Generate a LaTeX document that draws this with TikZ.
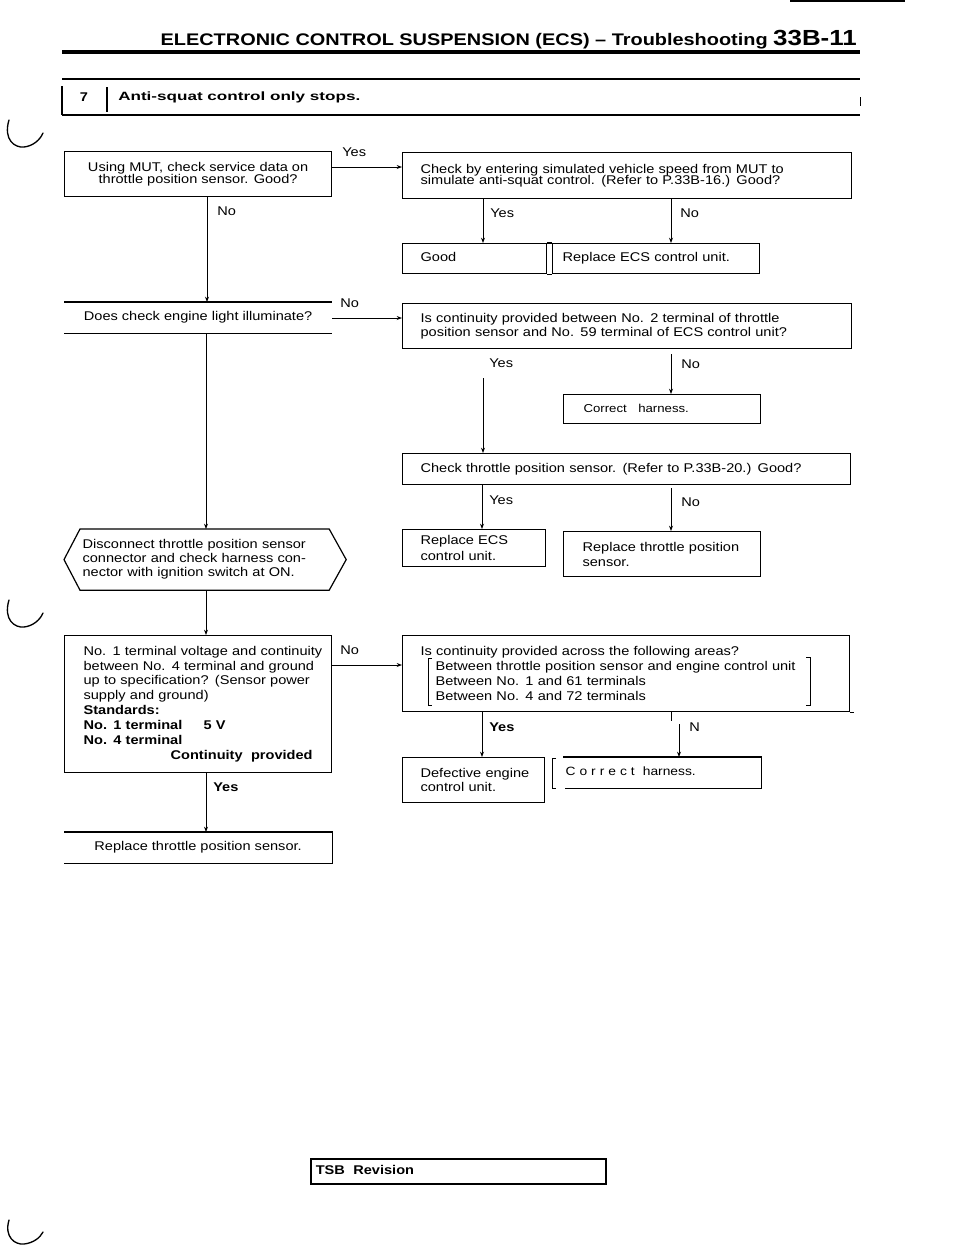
\documentclass[tikz,border=0pt]{standalone}
\usepackage{fontspec}
\setmainfont{Liberation Sans}[FakeStretch=1.15]
\usepackage{graphicx}
\usetikzlibrary{arrows.meta,calc}
\newcommand\fz[2]{\fontsize{#1}{#2}\selectfont\lineskiplimit=-30pt\relax}
\begin{document}
\begin{tikzpicture}[x=0.75pt, y=-0.75pt,
  box/.style={draw, line width=0.9pt, anchor=north west, inner ysep=0pt, font=\fz{9.5}{11}},
  one/.style={text height=7pt, text depth=2pt},
  lbl/.style={anchor=west, inner sep=0pt, font=\fz{9.5}{11}},
  blbl/.style={anchor=west, inner sep=0pt, font=\fz{9.5}{11}\bfseries},
  arr/.style={line width=0.7pt, -{Stealth[length=4pt,width=3pt]}},
  ln/.style={line width=0.9pt},
  brk/.style={line width=0.6pt},
  bindmark/.style={line width=1pt, line cap=round}]
\useasboundingbox (0,0) rectangle (960,1247);

% ---------- header ----------
\draw[line width=1pt] (790,1) -- (905,1);
\node[anchor=base east, inner sep=0pt] (title) at (857,45)
  {\resizebox{522pt}{\height}{\bfseries\fz{12.6}{14}ELECTRONIC CONTROL SUSPENSION (ECS) – Troubleshooting \fz{16.4}{18}33B-11}};
\draw[line width=2.5pt] (62,52) -- (860,52);
\draw[line width=2pt] (62,79) -- (860,79);
\draw[line width=1pt] (62,115) -- (860,115);
\draw[line width=1pt] (62,86) -- (62,115);
\draw[line width=0.8pt] (107,87) -- (107,112);
\draw[line width=0.7pt] (860,97) -- (860,106);
\node[inner sep=0pt, font=\fz{9.5}{10}\bfseries] (num) at (84,97) {7};
\node[anchor=west, inner sep=0pt] (stop) at (118,97)
  {\resizebox{181.5pt}{\height}{\fz{9}{10}\bfseries Anti-squat control only stops.}};

% ---------- binder marks ----------
\draw[bindmark] (9,120) .. controls (3,140) and (15,148) .. (24,147) .. controls (33,146) and (40,140) .. (43,133);
\draw[bindmark] (9,600) .. controls (3,620) and (15,628) .. (24,627) .. controls (33,626) and (40,620) .. (43,613);
\draw[bindmark] (9,1220) .. controls (4,1237) and (15,1245) .. (24,1244) .. controls (33,1243) and (40,1238) .. (43,1232);

% ---------- boxes ----------
\node[box, minimum width=200.25pt, minimum height=33.75pt, align=center, font=\fz{9.5}{8.5}] (A) at (64,151)
  {Using MUT, check service data on\\throttle position sensor. Good?};
\node[box, minimum width=336.75pt, minimum height=34.5pt, text width=309.75pt, inner xsep=13.5pt, align=left, font=\fz{9.5}{8.8}] (B) at (402,152)
  {Check by entering simulated vehicle speed from MUT to\\simulate anti-squat control. (Refer to P.33B-16.) Good?};
\node[box, one, minimum width=108pt, minimum height=22.5pt, text width=81pt, inner xsep=13.5pt, align=left] (G1) at (402,243) {Good};
\node[box, one, minimum width=155.25pt, minimum height=22.5pt, text width=140.25pt, inner xsep=7.5pt, align=left] (R1) at (552,243) {Replace ECS control unit.};
\draw[ln] (G1.north east) -- (R1.north west) (G1.south east) -- (R1.south west);

\node[box, one, draw=none, minimum width=200.25pt, minimum height=22.5pt, align=center] (C) at (64,302) {Does check engine light illuminate?};
\draw[ln] (C.north west) -- (C.north east) (C.south west) -- (C.south east);

\node[box, minimum width=336.75pt, minimum height=33.75pt, text width=309.75pt, inner xsep=13.5pt, align=left, font=\fz{9.5}{10}] (D) at (402,303)
  {Is continuity provided between No. 2 terminal of throttle\\position sensor and No. 59 terminal of ECS control unit?};
\node[box, one, minimum width=147.75pt, minimum height=21.75pt, text width=117.75pt, inner xsep=15pt, align=left, font=\fz{8.6}{10}] (CH) at (563,394) {Correct\ \ \ harness.};
\node[box, one, minimum width=336pt, minimum height=23.25pt, text width=309pt, inner xsep=13.5pt, align=left] (E) at (402,453)
  {Check throttle position sensor. (Refer to P.33B-20.) Good?};
\node[box, minimum width=107.25pt, minimum height=27.75pt, text width=80.25pt, inner xsep=13.5pt, align=left, font=\fz{9.5}{12}] (F) at (402,529)
  {Replace ECS\\control unit.};
\node[box, minimum width=147.75pt, minimum height=33.75pt, text width=119.25pt, inner xsep=14.25pt, align=left, font=\fz{9.5}{11.25}] (G) at (563,531)
  {\mbox{Replace throttle position}\\sensor.};

\node[box, draw=none, minimum width=186pt, minimum height=45pt, text width=183pt, inner xsep=1.5pt, align=left, font=\fz{9.5}{10.5}] (H) at (80,529)
  {Disconnect throttle position sensor\\connector and check harness con-\\nector with ignition switch at ON.};
\draw[ln] (H.north west) -- (H.north east) -- ($(H.east)+(17,0)$) -- (H.south east) -- (H.south west) -- ($(H.west)+(-16,0)$) -- cycle;

\node[box, minimum width=200.25pt, minimum height=102.75pt, text width=171.75pt, inner xsep=14.25pt, align=left, font=\fz{9.5}{11.2}] (I) at (64,635)
  {\mbox{No. 1 terminal voltage and continuity}\\
   \mbox{between No. 4 terminal and ground}\\
   \mbox{up to specification? (Sensor power}\\
   supply and ground)\\
   \textbf{Standards:}\\
   \makebox[90pt][l]{\textbf{No. 1 terminal}}\textbf{5 V}\\
   \textbf{No. 4 terminal}\\
   \hspace*{\fill}\textbf{Continuity\ \ provided}\hspace*{1pt}};

\node[box, minimum width=335.25pt, minimum height=57pt, text width=308.25pt, inner xsep=13.5pt, align=left, font=\fz{9.5}{11.25}] (J) at (402,635)
  {Is continuity provided across the following areas?\\
   \hspace*{11.25pt}Between throttle position sensor and engine control unit\\
   \hspace*{11.25pt}Between No. 1 and 61 terminals\\
   \hspace*{11.25pt}Between No. 4 and 72 terminals};
\draw[ln] (J.south east) -- ++(4,0);
\draw[brk] (432,658) -- (428,658) -- (428,705) -- (432,705);
\draw[brk] (806,657) -- (810,657) -- (810,705) -- (806,705);

\node[box, minimum width=106.5pt, minimum height=33.75pt, text width=79.5pt, inner xsep=13.5pt, align=left, font=\fz{9.5}{10.5}] (K) at (402,757)
  {\mbox{Defective engine}\\control unit.};
\node[box, one, draw=none, minimum width=147.75pt, minimum height=22.5pt, text width=144.75pt, inner xsep=1.5pt, align=left, font=\fz{9}{10}] (L) at (563,757)
  {C o r r e c t\ \ harness.};
\draw[ln] (L.north west) -- (L.north east) -- (L.south east) -- ($(L.south west)+(2,0)$);
\draw[brk] (556,758) -- (552,758) -- (552,788) -- (556,788);

\node[box, one, draw=none, minimum width=200.25pt, minimum height=22.5pt, align=center] (M) at (64,832) {Replace throttle position sensor.};
\draw[ln] (M.north west) -- (M.north east) -- (M.south east) -- (M.south west);

\node[draw, one, line width=1.2pt, anchor=north west, minimum width=221.25pt, minimum height=18.75pt, text width=213.75pt, inner xsep=3.75pt, inner ysep=0pt, align=left, font=\fz{9.5}{11}\bfseries] (T) at (310,1158) {TSB\ \ Revision};

% ---------- connectors ----------
\draw[arr] (A.east |- 0,167) -- (B.west |- 0,167);
\node[lbl] (lAB) at (342,152) {Yes};
\draw[arr] (A.south -| 207,0) -- (C.north -| 207,0);
\node[lbl] (lAC) at (217,211) {No};
\draw[arr] (B.south -| 483,0) -- (G1.north -| 483,0);
\node[lbl] (lBG) at (490,213) {Yes};
\draw[arr] (B.south -| 671,0) -- (R1.north -| 671,0);
\node[lbl] (lBR) at (680,213) {No};
\draw[arr] (C.east |- 0,318) -- (D.west |- 0,318);
\node[lbl] (lCD) at (340,303) {No};
\draw[arr] (C.south -| 206,0) -- (H.north -| 206,0);
\draw[arr] (D.south -| 483,0) ++(0,29) -- (E.north -| 483,0);
\node[lbl] (lDE) at (489,363) {Yes};
\draw[arr] (D.south -| 671,0) ++(0,5) -- (CH.north -| 671,0);
\node[lbl] (lDC) at (681,364) {No};
\draw[arr] (E.south -| 482,0) -- (F.north -| 482,0);
\node[lbl] (lEF) at (489,500) {Yes};
\draw[arr] (E.south -| 671,0) ++(0,3) -- (G.north -| 671,0);
\node[lbl] (lEG) at (681,502) {No};
\draw[arr] (H.south -| 206,0) -- (I.north -| 206,0);
\draw[arr] (I.east |- 0,665) -- (J.west |- 0,665);
\node[lbl] (lIJ) at (340,650) {No};
\draw[arr] (I.south -| 206,0) -- (M.north -| 206,0);
\node[blbl] (lIM) at (213,787) {Yes};
\draw[arr] (J.south -| 482,0) -- (K.north -| 482,0);
\node[blbl] (lJK) at (489,727) {Yes};
\draw[line width=0.7pt] (J.south -| 671,0) -- ++(0,9);
\draw[arr] (J.south -| 679,0) ++(0,12) -- (L.north -| 679,0);
\node[lbl] (lJL) at (689,727) {N};
\end{tikzpicture}
\end{document}
